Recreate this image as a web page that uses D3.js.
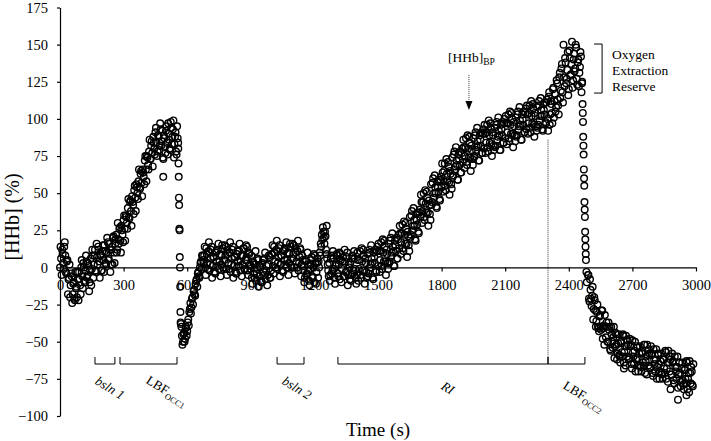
<html>
<head>
  <meta charset="utf-8">
  <script src="https://d3js.org/d3.v7.min.js"></script>
  <style>
    body { margin: 0; background: #fff; }
    text { font-family: "Liberation Serif", "Times New Roman", serif; }
  </style>
</head>
<body>
<svg id="chart" width="711" height="441"></svg>
<script>
// ---- data (time in s, [HHb] in %) ----
var step = 5;
var bsln1Start = 0;
var bsln1Vals = [0, 6, 12, 3, 14, 8, -4, 5, -8, 2, -12, -6, -18, -10, -22, -14, -20, -8, -3, -12,
  0, -6, 3, -9, -2, 4, -5, 1, -10, 6, -1, 8, 2, 12, -3, 7, 14, 4, 9, -2,
  11, 5, 15, 3, 10, 17, 6, 12, 2, 14, 20, 10, 16, 22, 12, 19, 26, 18, 28, 22,
  32, 26, 35, 30, 40, 34, 44, 38, 48, 42, 52, 47, 56, 50, 58, 54, 63, 57, 66, 61,
  72, 66, 75, 69, 78, 73, 82, 77, 88, 80, 91, 84, 78, 88, 82, 93, 85, 74, 89, 81,
  92, 84, 97, 86, 79, 94, 88, 99, 83, 91, 76, 87];
var bsln1ValsB = [14, -5, 9, -1, 17, -3, 4, -18, -7, -20, -4, -24, -11, -21, -3,
  -13, -3, -22, -8, -18, 5, -14, 0, -10, 8, -7, 3, -16, -2, -12,
  12, -7, 8, -2, 16, 2, 12, -7, 8, -2, 15, -3, 11, 2, 20, 5, 16, -3, 12, 2,
  21, 3, 19, 10, 30, 16, 27, 10, 25, 17, 35, 18, 34, 26, 46, 33, 45, 28, 44, 36,
  55, 38, 54, 46, 66, 53, 65, 48, 64, 56, 75, 58, 74, 66, 86, 73, 85, 68, 84, 76,
  94, 75, 89, 79, 97, 82, 92, 73, 87, 77, 95, 76, 90, 80, 98, 83, 93, 74, 88, 78, 95, 84];
var occ1Drop = [[558, 80], [559, 70], [560, 61], [561, 47], [562, 42], [563, 26], [564, 25],
  [565, 7], [566, 0], [567, -13], [568, -30], [569, -37]];
var recoveryStart = 570;
var recoveryVals = [-38, -46, -50, -44, -48, -40, -43, -35, -30, -24, -27, -20, -16, -18, -11,
  -8, -4, -6, 0, 4, 8, 5];
var recoveryValsB = [-40, -52, -45, -50, -41, -46, -37, -39, -28, -31, -21, -25, -15, -19, -9,
  -13, -3, -7, 3, -1, 8, 3];
var plateauAStart = 680;
var plateauAVals = [8, 0, 13, 3, 11, -2, 6, 14, 1, 7, -3, 10, 4, 12, -1, 9, 2, 15, 0, 5,
  8, -1, 12, 3, 10, -3, 6, 14, 1, 7, -4, 9, 4, 11, -2, 8, 2, 13, -1, 5, 7, -2, 10, 2];
var plateauBStart = 900;
var plateauBVals = [1, -7, 4, -4, 2, -9, -1, 5, -6, 0, -10, 3, -3, 6, -8, 1, -5, 8, -7, -2];
var bsln2Start = 1000;
var bsln2Vals = [9, 1, 14, 4, 12, -1, 7, 15, 2, 8, -2, 11, 5, 13, 0, 10, 3, 16, 1, 6,
  9, 0, 13, 4, 11, -2, 7, 12, 2, 5];
var plateauCStart = 1150;
var plateauCVals = [1, -7, 4, -4, 2, -9, -1, 5, -6, 0, -10, 3, -3, 6];
var spikeStart = 1220;
var spikeVals = [4, 10, 16, 22, 27, 20, 24, 12, 6, -2];
var plateauDStart = 1270;
var plateauDVals = [3, -5, 8, -2, 6, -7, 1, 9, -4, 2, -8, 5, -1, 7, -6, 4, -3, 10, -5, 0,
  3, -5, 8, -2, 6, -7];
// second pass of samples through the whole plateau, 682.5 s .. 1397.5 s
var plateauValsB = [14, -5, 9, -1, 17, 2, 12, -7, 7, -3, -4, 11, 1, 16, 4, -6, 8, 13, -1, 15,
  14, -5, 9, -1, 17, 2, 12, -7, 7, -3, -4, 11, 1, 16, 4, -6, 8, 13, -1, 15, 14, -5, 9, -1,
  8, -11, 3, -7, 11, -4, 6, -13, 1, -9, -10, 5, -5, 10, -2, -12, 2, 7, -7, 9,
  15, -4, 10, 0, 18, 3, 13, -6, 8, -2, -3, 12, 2, 17, 5, -5, 9, 14, 0, 16, 15, -4, 10, 0, 18, 3, 13, -6, 8, -2,
  -10, 5, -5, 10, -2, -12, 2, 7, -7, 9, 8, -11, 3, -7,
  0, 8, 14, 19, 24, 16, 21, 9, 2, -6,
  -9, 6, -4, 11, -1, -11, 3, 8, -6, 10, 9, -10, 4, -6, 12, -3, 7, -12, 2, -8, -9, 6, -4, 11, -1, -11];
var riStart = 1400;
var riVals = [-5, 5, -1, 11, -7, 4, 12, -2, 6, -3,
  9, -4, 12, 2, 6, -7, 10, 3, -2, 11,
  1, 11, 5, 17, -1, 10, 18, 4, 12, 3,
  16, 4, 20, 10, 14, 1, 18, 11, 6, 19,
  13, 23, 17, 29, 11, 22, 30, 16, 24, 15,
  34, 22, 38, 28, 32, 19, 36, 29, 24, 37,
  34, 44, 38, 50, 32, 43, 51, 37, 45, 36,
  56, 44, 60, 50, 54, 41, 58, 51, 46, 59,
  54, 64, 58, 70, 52, 63, 71, 57, 65, 56,
  74, 62, 78, 68, 72, 59, 76, 69, 64, 77,
  71, 81, 75, 87, 69, 80, 88, 74, 82, 73,
  87, 75, 91, 81, 85, 72, 89, 82, 77, 90,
  80, 90, 84, 96, 78, 89, 97, 83, 91, 82,
  94, 82, 98, 88, 92, 79, 96, 89, 84, 97,
  87, 97, 91, 103, 85, 96, 104, 90, 98, 89,
  101, 89, 105, 95, 99, 86, 103, 96, 91, 104,
  93, 103, 97, 109, 91, 102, 110, 96, 104, 95,
  108, 96, 112, 102, 106, 93, 110, 103, 98, 111];
var riValsB = [10, -9, 5, -5, 13, -2, 8, -11, 3, -7,
  -6, 10, 0, 15, 3, -8, 7, 12, -3, 14,
  16, -3, 11, 1, 19, 4, 14, -5, 9, -1,
  3, 18, 8, 23, 11, 1, 15, 20, 6, 22,
  28, 9, 23, 13, 31, 16, 26, 7, 21, 11,
  20, 35, 25, 40, 28, 18, 32, 37, 23, 39,
  49, 30, 44, 34, 52, 37, 47, 28, 42, 32,
  42, 57, 47, 62, 50, 40, 54, 59, 45, 61,
  70, 51, 65, 55, 73, 58, 68, 49, 63, 53,
  61, 76, 66, 81, 69, 59, 73, 78, 64, 80,
  86, 67, 81, 71, 89, 74, 84, 65, 79, 69,
  74, 89, 79, 94, 82, 72, 86, 91, 77, 93,
  96, 77, 91, 81, 99, 84, 94, 75, 89, 79,
  81, 96, 86, 101, 89, 79, 93, 98, 84, 100,
  102, 83, 97, 87, 105, 90, 100, 81, 95, 85,
  88, 103, 93, 108, 96, 86, 100, 105, 91, 107,
  109, 90, 104, 94, 112, 97, 107, 88, 102, 92,
  94, 109, 99, 114, 102, 92, 106, 111, 97, 113];
var peakStart = 2300;
var peakVals = [100, 115, 96, 112, 104, 120, 101, 117, 108, 124, 109, 128, 114, 134, 118, 150,
  122, 138, 127, 145, 120, 141, 130, 152, 126, 144, 134, 148, 123, 140, 131, 145, 118];
var peakValsB = [92, 118, 103, 110, 97, 121, 112, 105, 126, 113, 103, 131, 119, 137, 111, 128,
  141, 124, 133, 116, 146, 129, 137, 121, 140, 132, 150, 127, 138, 122, 135, 142, 124];
var occ2Drop = [[2463, 125], [2465, 110], [2466, 104], [2467, 98], [2468, 88], [2469, 82], [2470, 76],
  [2471, 66], [2472, 60], [2473, 55], [2474, 44], [2475, 39], [2476, 34], [2477, 24], [2478, 19],
  [2479, 14], [2480, 9], [2481, 5], [2483, -3], [2485, -10]];
var tailStart = 2490;
var tailVals = [-5, -21, -8, -21, -19, -35, -20, -29, -36, -25,
  -41, -33, -40, -29, -48, -39, -32, -47, -40, -50,
  -42, -55, -40, -50, -47, -61, -44, -52, -58, -45,
  -60, -50, -57, -45, -64, -53, -46, -60, -52, -61,
  -53, -65, -49, -60, -56, -70, -53, -61, -66, -53,
  -67, -58, -64, -52, -71, -60, -52, -66, -58, -67,
  -59, -71, -55, -65, -62, -75, -58, -65, -70, -58,
  -72, -62, -68, -56, -75, -64, -56, -70, -62, -72,
  -64, -76, -60, -70, -67, -81, -64, -71, -77, -64,
  -79, -69, -75, -63, -82, -71, -63, -78, -70, -80];
var tailValsB = [-5, -23, -15, -26, -13, -28, -22, -40, -30, -40,
  -43, -32, -42, -29, -41, -52, -40, -37, -50, -37,
  -40, -56, -45, -54, -40, -53, -45, -62, -51, -59,
  -64, -51, -60, -46, -57, -66, -53, -49, -62, -48,
  -52, -68, -57, -65, -50, -62, -54, -70, -58, -66,
  -70, -57, -66, -52, -63, -72, -59, -55, -68, -53,
  -58, -73, -62, -70, -55, -67, -59, -75, -63, -71,
  -75, -62, -71, -57, -68, -77, -64, -60, -72, -58,
  -63, -78, -67, -75, -60, -72, -64, -80, -68, -76,
  -82, -69, -78, -64, -75, -84, -71, -67, -79, -65];
var outliers = [[487, 61], [2880, -82], [2915, -89], [2955, -86], [2660, -68], [1258, 28]];

var yTicks = [175, 150, 125, 100, 75, 50, 25, 0, -25, -50, -75, -100];
var xTicks = [0, 300, 600, 900, 1200, 1500, 1800, 2100, 2400, 2700, 3000];

// phase brackets [start, end, label, subscript, italic]
var phases = [[165, 259, "bsln 1", "", true], [283, 552, "LBF", "OCC1", false],
  [1024, 1151, "bsln 2", "", true], [1311, 2302, "RI", "", true], [2302, 2476, "LBF", "OCC2", false]];
var phaseLabelPos = [[236, -81], [505, -83], [1118, -81], [1830, -81], [2472, -86.5]];
var breakpointT = 1929;
var rlineT = 2302;

// ---- build points ----
var points = [];
function addSeg(start, vals) { vals.forEach(function(v, i) { points.push([start + i * step, v]); }); }
addSeg(bsln1Start, bsln1Vals);
addSeg(bsln1Start + 2.5, bsln1ValsB);
occ1Drop.forEach(function(p) { points.push(p); });
addSeg(recoveryStart, recoveryVals);
addSeg(recoveryStart + 2.5, recoveryValsB);
addSeg(plateauAStart, plateauAVals);
addSeg(plateauBStart, plateauBVals);
addSeg(bsln2Start, bsln2Vals);
addSeg(plateauCStart, plateauCVals);
addSeg(spikeStart, spikeVals);
addSeg(plateauDStart, plateauDVals);
addSeg(plateauAStart + 2.5, plateauValsB);
addSeg(riStart, riVals);
addSeg(riStart + 2.5, riValsB);
addSeg(peakStart, peakVals);
addSeg(peakStart + 2.5, peakValsB);
occ2Drop.forEach(function(p) { points.push(p); });
addSeg(tailStart, tailVals);
addSeg(tailStart + 2.5, tailValsB);
outliers.forEach(function(p) { points.push(p); });

var svg = d3.select("#chart");
var x = d3.scaleLinear().domain([0, 3000]).range([60, 696]);
var y = d3.scaleLinear().domain([-100, 175]).range([416, 7.5]);

// points
svg.append("g").selectAll("circle").data(points).enter().append("circle")
  .attr("cx", function(d) { return x(d[0]); })
  .attr("cy", function(d) { return y(d[1]); })
  .attr("r", 3.3)
  .attr("fill", "none")
  .attr("stroke", "#000")
  .attr("stroke-width", 1.4);

// axes
var yAxis = svg.append("g").attr("transform", "translate(" + x(0) + ",0)")
  .call(d3.axisLeft(y).tickValues(yTicks).tickSize(3).tickSizeOuter(0).tickPadding(9)
    .tickFormat(d3.format("d")));
var xAxis = svg.append("g").attr("transform", "translate(0," + y(0) + ")")
  .call(d3.axisBottom(x).tickValues(xTicks).tickSize(4).tickSizeOuter(0).tickPadding(8)
    .tickFormat(d3.format("d")));
[yAxis, xAxis].forEach(function(a) {
  a.attr("font-family", null);
  a.selectAll("path, line").attr("stroke", "#000").attr("stroke-width", 1.2);
  a.selectAll("text").style("font-family", "'Liberation Serif', serif").attr("font-size", 14.5).attr("fill", "#000");
});

// axis titles
svg.append("text").attr("transform", "translate(19," + (y(34)) + ") rotate(-90)")
  .attr("text-anchor", "middle").attr("font-size", 20).text("[HHb] (%)");
svg.append("text").attr("x", x(1500)).attr("y", 436)
  .attr("text-anchor", "middle").attr("font-size", 19).text("Time (s)");

// phase brackets
var by = y(-65);
phases.forEach(function(p, i) {
  svg.append("path")
    .attr("d", "M" + x(p[0]) + "," + (by - 7) + "V" + by + "H" + x(p[1]) + "V" + (by - 7))
    .attr("fill", "none").attr("stroke", "#000").attr("stroke-width", 1);
  var pos = phaseLabelPos[i];
  var t = svg.append("text")
    .attr("transform", "translate(" + x(pos[0]) + "," + y(pos[1]) + ") rotate(32)")
    .attr("text-anchor", "middle").attr("dy", "0.35em").attr("font-size", 13)
    .attr("font-style", p[4] ? "italic" : "normal");
  t.append("tspan").text(p[2]);
  if (p[3]) t.append("tspan").attr("font-size", 8.5).attr("dy", 3).text(p[3]);
});

// dotted vertical line at end of RI
svg.append("line").attr("x1", x(rlineT)).attr("x2", x(rlineT))
  .attr("y1", y(86)).attr("y2", by - 7)
  .attr("stroke", "#000").attr("stroke-width", 0.8).attr("stroke-dasharray", "1,1");

// breakpoint arrow
var ax = x(breakpointT);
svg.append("line").attr("x1", ax).attr("x2", ax).attr("y1", y(129.5)).attr("y2", y(112))
  .attr("stroke", "#000").attr("stroke-width", 0.8).attr("stroke-dasharray", "1,1");
svg.append("path")
  .attr("d", "M" + (ax - 3.5) + "," + y(112) + "L" + (ax + 3.5) + "," + y(112) + "L" + ax + "," + y(106) + "Z")
  .attr("fill", "#000");
var bp = svg.append("text").attr("x", x(1830)).attr("y", y(138)).attr("font-size", 13.5);
bp.append("tspan").text("[HHb]");
bp.append("tspan").attr("font-size", 9.5).attr("dy", 3).text("BP");

// oxygen extraction reserve bracket
var rx = x(2557);
svg.append("path")
  .attr("d", "M" + (rx - 8) + "," + y(150.4) + "H" + rx + "V" + y(117.4) + "H" + (rx - 8))
  .attr("fill", "none").attr("stroke", "#000").attr("stroke-width", 1);
["Oxygen", "Extraction", "Reserve"].forEach(function(s, i) {
  svg.append("text").attr("x", rx + 10).attr("y", 59 + i * 15.8).attr("font-size", 13.5).text(s);
});
</script>
</body>
</html>
